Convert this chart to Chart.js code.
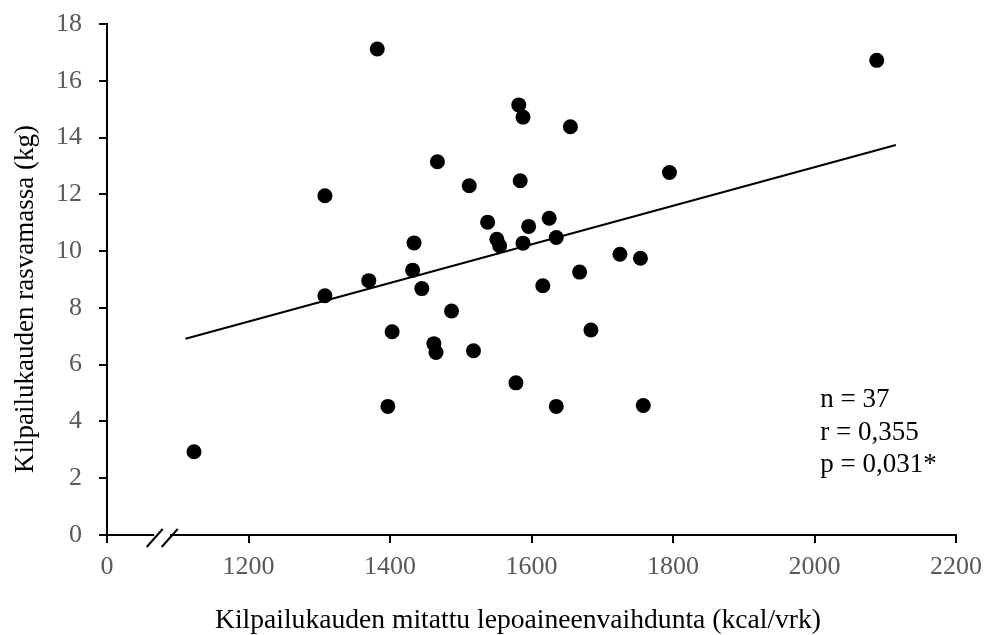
<!DOCTYPE html>
<html lang="en">
<head>
    <meta charset="UTF-8">
    <title>Kilpailukauden rasvamassa</title>
    <script src="https://cdn.jsdelivr.net/npm/chart.js"></script>
    <style>
        body { margin: 0; background: #fff; }
        .wrap { width: 988px; height: 635px; }
    </style>
</head>
<body>
    <div class="wrap"><canvas id="scatter"></canvas></div>

    <script>
        // RMR (kcal/vrk) and fat mass (kg)
        const rmr = [1123, 1308, 1308, 1370, 1382, 1582, 1588, 1655, 1467, 1512,
                     1584, 1538, 1596, 1625, 1434, 1551, 1555, 1588, 1635, 1725,
                     1754, 1432, 1445, 1616, 1668, 1487, 1403, 1684, 1462, 1465,
                     1518, 1578, 1397, 1635, 1758, 2088, 1795];
        const fatMass = [2.93, 8.43, 11.95, 8.96, 17.12, 15.15, 14.72, 14.38, 13.15, 12.30,
                         12.48, 11.02, 10.87, 11.16, 10.29, 10.42, 10.19, 10.28, 10.48, 9.89,
                         9.75, 9.33, 8.68, 8.78, 9.26, 7.89, 7.16, 7.22, 6.74, 6.43,
                         6.49, 5.36, 4.53, 4.53, 4.56, 16.72, 12.77];
        const trendRmr = [1111, 2115];
        const trendFat = [6.91, 13.74];

        const xTicks = [1000, 1200, 1400, 1600, 1800, 2000, 2200];
        const xTickLabels = ['0', '1200', '1400', '1600', '1800', '2000', '2200'];
        const yTicks = [0, 2, 4, 6, 8, 10, 12, 14, 16, 18];
        const stats = ['n = 37', 'r = 0,355', 'p = 0,031*'];
        const statsAt = { x: 2008, y: [4.76, 3.6, 2.48] };
        const breakAt = 1078;
        const xTitle = 'Kilpailukauden mitattu lepoaineenvaihdunta (kcal/vrk)';
        const yTitle = 'Kilpailukauden rasvamassa (kg)';

        const serif = "'Liberation Serif', 'Times New Roman', serif";

        // axis break marks, axis titles and the n/r/p box
        const extras = {
            id: 'extras',
            afterDraw(chart) {
                const ctx = chart.ctx;
                const xs = chart.scales.x, ys = chart.scales.y;
                const bx = xs.getPixelForValue(breakAt);
                const by = ys.getPixelForValue(0);
                ctx.save();
                ctx.fillStyle = '#fff';
                ctx.fillRect(bx - 8, by - 3, 16, 6);
                ctx.strokeStyle = '#000';
                ctx.lineWidth = 2;
                [-7.5, 7.5].forEach(d => {
                    ctx.beginPath();
                    ctx.moveTo(bx + d - 8, by + 12);
                    ctx.lineTo(bx + d + 8, by - 6);
                    ctx.stroke();
                });

                ctx.fillStyle = '#000';
                ctx.font = '27px ' + serif;
                ctx.textBaseline = 'middle';
                stats.forEach((t, i) => {
                    ctx.fillText(t, xs.getPixelForValue(statsAt.x), ys.getPixelForValue(statsAt.y[i]));
                });

                ctx.textBaseline = 'alphabetic';
                ctx.textAlign = 'center';
                ctx.font = '27.6px ' + serif;
                ctx.fillText(xTitle, 518, 628);
                ctx.font = '27px ' + serif;
                ctx.translate(33, 299);
                ctx.rotate(-Math.PI / 2);
                ctx.fillText(yTitle, 0, 0);
                ctx.restore();
            }
        };

        new Chart(document.getElementById('scatter'), {
            type: 'scatter',
            data: {
                datasets: [{
                    data: rmr.map((v, i) => ({ x: v, y: fatMass[i] })),
                    backgroundColor: '#000',
                    borderWidth: 0,
                    pointRadius: 7.5,
                    pointHoverRadius: 7.5
                }, {
                    data: trendRmr.map((v, i) => ({ x: v, y: trendFat[i] })),
                    showLine: true,
                    borderColor: '#000',
                    borderWidth: 2,
                    pointRadius: 0,
                    fill: false
                }]
            },
            options: {
                responsive: true,
                maintainAspectRatio: false,
                animation: false,
                layout: { padding: { top: 24, right: 32, left: 0, bottom: 0 } },
                plugins: {
                    legend: { display: false },
                    tooltip: { enabled: false }
                },
                scales: {
                    x: {
                        type: 'linear',
                        min: 1000,
                        max: 2200,
                        afterBuildTicks: s => { s.ticks = xTicks.map(v => ({ value: v })); },
                        afterFit: s => { s.height = 100; s.paddingLeft = 0; s.paddingRight = 0; },
                        ticks: {
                            callback: (v) => xTickLabels[xTicks.indexOf(v)],
                            color: '#595959',
                            font: { family: serif, size: 26 },
                            padding: 9,
                            maxRotation: 0
                        },
                        grid: { drawOnChartArea: false, color: '#000', lineWidth: 2, tickLength: 8 },
                        border: { color: '#000', width: 2 }
                    },
                    y: {
                        min: 0,
                        max: 18,
                        afterBuildTicks: s => { s.ticks = yTicks.map(v => ({ value: v })); },
                        afterFit: s => { s.width = 107; s.paddingTop = 0; s.paddingBottom = 0; },
                        ticks: {
                            color: '#595959',
                            font: { family: serif, size: 26 },
                            padding: 17
                        },
                        grid: { drawOnChartArea: false, color: '#000', lineWidth: 2, tickLength: 8 },
                        border: { color: '#000', width: 2 }
                    }
                }
            },
            plugins: [extras]
        });
    </script>
</body>
</html>
